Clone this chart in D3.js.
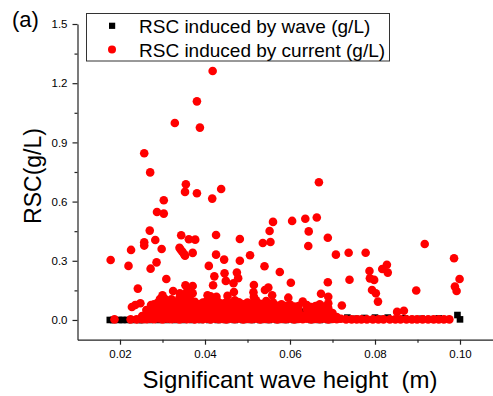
<!DOCTYPE html>
<html>
<head>
<meta charset="utf-8">
<script src="https://cdn.jsdelivr.net/npm/d3@7/dist/d3.min.js"></script>
<style>
	body { margin: 0; background: #fff; }
	svg { display: block; font-family: "Liberation Sans", Arial, sans-serif; }
	.axis path, .axis line { stroke: #222; stroke-width: 1.2; }
	.axis text { font-size: 11.5px; fill: #000; font-family: "Liberation Sans", Arial, sans-serif; }
</style>
</head>
<body>
<div class="plot-container"></div>
<script>
// [wave height (m), RSC (g/L)]
const wavePoints = [
	[0.0176, 0], [0.0184, 0], [0.0198, 0], [0.0206, 0], [0.0216, 0], [0.0228, 0], [0.0245, 0],
	[0.0252, 0], [0.0270, 0], [0.0290, 0], [0.0310, 0], [0.0330, 0], [0.0350, 0], [0.0370, 0],
	[0.0390, 0], [0.0410, 0], [0.0430, 0], [0.0450, 0], [0.0470, 0], [0.0490, 0], [0.0510, 0],
	[0.0530, 0], [0.0550, 0], [0.0570, 0], [0.0590, 0], [0.0610, 0], [0.0631, 0.042], [0.0650, 0],
	[0.0670, 0], [0.0690, 0], [0.0712, 0.004], [0.0735, 0.012], [0.0755, 0.006], [0.0775, 0.01],
	[0.0800, 0.012], [0.0815, 0.006], [0.0830, 0.012], [0.0850, 0.004], [0.0870, 0.008], [0.0890, 0.004],
	[0.0910, 0.006], [0.0930, 0.004], [0.0950, 0.008], [0.0970, 0.004], [0.0994, 0.025], [0.1000, 0.003]
];

const currentOutliers = [
	[0.0418, 1.262], [0.0381, 1.108], [0.0329, 0.998], [0.0388, 0.975], [0.0257, 0.845], [0.0271, 0.748],
	[0.0355, 0.688], [0.0353, 0.649], [0.0381, 0.642], [0.0417, 0.615], [0.0438, 0.664], [0.0303, 0.607],
	[0.0287, 0.547], [0.0303, 0.539], [0.0270, 0.453], [0.0283, 0.405], [0.0257, 0.394], [0.0257, 0.377],
	[0.0344, 0.429], [0.0362, 0.409], [0.0377, 0.407], [0.0340, 0.366], [0.0343, 0.356], [0.0347, 0.345],
	[0.0351, 0.333], [0.0353, 0.326], [0.0371, 0.340], [0.0426, 0.431], [0.0426, 0.331], [0.0409, 0.274],
	[0.0178, 0.304], [0.0220, 0.274], [0.0226, 0.355], [0.0272, 0.260], [0.0286, 0.292], [0.0298, 0.360],
	[0.0242, 0.159], [0.0228, 0.066], [0.0236, 0.076], [0.0248, 0.085], [0.0309, 0.208], [0.0300, 0.125],
	[0.0301, 0.113], [0.0325, 0.147], [0.0341, 0.135], [0.0354, 0.176], [0.0371, 0.172], [0.0371, 0.135],
	[0.0422, 0.221], [0.0419, 0.176], [0.0445, 0.306], [0.0446, 0.237], [0.0449, 0.198], [0.0427, 0.118],
	[0.0453, 0.122], [0.0468, 0.142], [0.0475, 0.240], [0.0478, 0.212], [0.0406, 0.125], [0.0482, 0.410],
	[0.0482, 0.300], [0.0273, 0.076], [0.0282, 0.056], [0.0294, 0.106], [0.0306, 0.106],
	[0.0668, 0.698], [0.0560, 0.497], [0.0605, 0.502], [0.0636, 0.513], [0.0663, 0.519], [0.0552, 0.451],
	[0.0536, 0.390], [0.0554, 0.395], [0.0644, 0.449], [0.0643, 0.375], [0.0689, 0.417], [0.0506, 0.328],
	[0.0708, 0.331], [0.0738, 0.341], [0.0778, 0.341], [0.0917, 0.385], [0.0986, 0.313], [0.0999, 0.208],
	[0.0988, 0.169], [0.0992, 0.147], [0.0540, 0.272], [0.0576, 0.243], [0.0602, 0.189], [0.0689, 0.191],
	[0.0740, 0.204], [0.0787, 0.248], [0.0788, 0.211], [0.0798, 0.203], [0.0817, 0.258], [0.0828, 0.280],
	[0.0830, 0.240], [0.0793, 0.152], [0.0802, 0.135], [0.0807, 0.093], [0.0897, 0.149], [0.0852, 0.041],
	[0.0868, 0.047], [0.0722, 0.073], [0.0673, 0.133], [0.0690, 0.118], [0.0690, 0.085], [0.0596, 0.113],
	[0.0630, 0.093], [0.0515, 0.177], [0.0515, 0.118], [0.0514, 0.140], [0.0549, 0.164], [0.0541, 0.152],
	[0.0558, 0.125], [0.0544, 0.096], [0.0641, 0.059], [0.0467, 0.186]
];

// the dense band close to zero, column by column
const currentDense = [
	[0.0187, 0.003], [0.0225, 0.003], [0.0239, 0.003],
	[0.0252, 0.004], [0.0252, 0.020],
	[0.0262, 0.004], [0.0262, 0.030], [0.0262, 0.050],
	[0.0271, 0.006], [0.0271, 0.025], [0.0271, 0.048],
	[0.0280, 0.004], [0.0280, 0.030], [0.0280, 0.060], [0.0280, 0.080],
	[0.0290, 0.008], [0.0290, 0.035], [0.0290, 0.062], [0.0290, 0.090],
	[0.0300, 0.003], [0.0300, 0.028], [0.0300, 0.055], [0.0300, 0.085],
	[0.0311, 0.006], [0.0311, 0.030], [0.0311, 0.060], [0.0311, 0.095],
	[0.0321, 0.004], [0.0321, 0.025], [0.0321, 0.050], [0.0321, 0.078], [0.0321, 0.105],
	[0.0330, 0.007], [0.0330, 0.035], [0.0330, 0.065], [0.0330, 0.092],
	[0.0340, 0.003], [0.0340, 0.030], [0.0340, 0.058], [0.0340, 0.088], [0.0340, 0.112],
	[0.0349, 0.006], [0.0349, 0.032], [0.0349, 0.060], [0.0349, 0.090], [0.0349, 0.125],
	[0.0358, 0.004], [0.0358, 0.028], [0.0358, 0.055], [0.0358, 0.085], [0.0358, 0.115], [0.0358, 0.145],
	[0.0367, 0.007], [0.0367, 0.035], [0.0367, 0.062], [0.0367, 0.095], [0.0367, 0.130],
	[0.0376, 0.003], [0.0376, 0.030], [0.0376, 0.060], [0.0376, 0.092],
	[0.0386, 0.005], [0.0386, 0.025], [0.0386, 0.050], [0.0386, 0.080],
	[0.0395, 0.004], [0.0395, 0.030], [0.0395, 0.058], [0.0395, 0.088],
	[0.0404, 0.006], [0.0404, 0.032], [0.0404, 0.060], [0.0404, 0.095],
	[0.0413, 0.003], [0.0413, 0.028], [0.0413, 0.055], [0.0413, 0.085], [0.0413, 0.120],
	[0.0423, 0.007], [0.0423, 0.035], [0.0423, 0.065], [0.0423, 0.100],
	[0.0432, 0.004], [0.0432, 0.030], [0.0432, 0.060], [0.0432, 0.090],
	[0.0441, 0.005], [0.0441, 0.028], [0.0441, 0.055], [0.0441, 0.082],
	[0.0450, 0.003], [0.0450, 0.032], [0.0450, 0.060], [0.0450, 0.090],
	[0.0460, 0.006], [0.0460, 0.030], [0.0460, 0.058], [0.0460, 0.085],
	[0.0470, 0.004], [0.0470, 0.025], [0.0470, 0.050], [0.0470, 0.078], [0.0470, 0.100],
	[0.0480, 0.007], [0.0480, 0.033], [0.0480, 0.060], [0.0480, 0.090],
	[0.0490, 0.003], [0.0490, 0.028], [0.0490, 0.055], [0.0490, 0.080],
	[0.0500, 0.005], [0.0500, 0.030], [0.0500, 0.058], [0.0500, 0.088],
	[0.0510, 0.004], [0.0510, 0.032], [0.0510, 0.060], [0.0510, 0.085],
	[0.0520, 0.006], [0.0520, 0.028], [0.0520, 0.052], [0.0520, 0.078], [0.0520, 0.100],
	[0.0530, 0.003], [0.0530, 0.030], [0.0530, 0.058], [0.0530, 0.082],
	[0.0540, 0.005], [0.0540, 0.025], [0.0540, 0.050], [0.0540, 0.075],
	[0.0550, 0.004], [0.0550, 0.030], [0.0550, 0.055], [0.0550, 0.080],
	[0.0560, 0.007], [0.0560, 0.032], [0.0560, 0.060], [0.0560, 0.088],
	[0.0570, 0.003], [0.0570, 0.028], [0.0570, 0.052], [0.0570, 0.072],
	[0.0580, 0.005], [0.0580, 0.030], [0.0580, 0.055], [0.0580, 0.080],
	[0.0590, 0.004], [0.0590, 0.025], [0.0590, 0.050], [0.0590, 0.070],
	[0.0600, 0.006], [0.0600, 0.030], [0.0600, 0.058], [0.0600, 0.078],
	[0.0610, 0.003], [0.0610, 0.028], [0.0610, 0.050], [0.0610, 0.068],
	[0.0620, 0.005], [0.0620, 0.025], [0.0620, 0.048], [0.0620, 0.070],
	[0.0630, 0.004], [0.0630, 0.022],
	[0.0640, 0.006], [0.0640, 0.030], [0.0640, 0.055], [0.0640, 0.075],
	[0.0650, 0.003], [0.0650, 0.025], [0.0650, 0.048], [0.0650, 0.065],
	[0.0660, 0.005], [0.0660, 0.028], [0.0660, 0.050], [0.0660, 0.070],
	[0.0670, 0.004], [0.0670, 0.030], [0.0670, 0.055], [0.0670, 0.080],
	[0.0680, 0.006], [0.0680, 0.025], [0.0680, 0.050], [0.0680, 0.068],
	[0.0690, 0.003], [0.0690, 0.028], [0.0690, 0.045], [0.0690, 0.060],
	[0.0700, 0.005], [0.0700, 0.020], [0.0700, 0.035],
	[0.0710, 0.004], [0.0710, 0.015],
	[0.0720, 0.006],
	[0.0732, 0.003], [0.0745, 0.003], [0.0757, 0.003], [0.0768, 0.003], [0.0781, 0.003], [0.0795, 0.003],
	[0.0808, 0.003], [0.0820, 0.003], [0.0835, 0.003], [0.0848, 0.003], [0.0860, 0.003], [0.0874, 0.003],
	[0.0887, 0.003], [0.0899, 0.003], [0.0912, 0.003], [0.0925, 0.003], [0.0938, 0.003], [0.0950, 0.003],
	[0.0962, 0.003], [0.0975, 0.003]
];

const xMajorTicks = [0.02, 0.04, 0.06, 0.08, 0.10];
const xMinorTicks = [0.03, 0.05, 0.07, 0.09];
const yMajorTicks = [0.0, 0.3, 0.6, 0.9, 1.2, 1.5];
const yMinorTicks = [0.15, 0.45, 0.75, 1.05, 1.35];

const legendLabels = ["RSC induced by wave (g/L)", "RSC induced by current (g/L)"];

const width = 493, height = 396;

const svg = d3.select(".plot-container").append("svg")
	.attr("width", width)
	.attr("height", height);

const x = d3.scaleLinear()
	.domain([0.01, 0.11])
	.range([77.5, 502.5]);

const y = d3.scaleLinear()
	.domain([-0.1, 1.5])
	.range([339.7, 24]);

// points first so the axes sit on top
svg.append("g").selectAll("rect")
	.data(wavePoints)
	.join("rect")
	.attr("x", d => x(d[0]) - 3.3)
	.attr("y", d => y(d[1]) - 3.3)
	.attr("width", 6.6)
	.attr("height", 6.6)
	.attr("fill", "#000");

svg.append("g").selectAll("circle")
	.data(currentDense.concat(currentOutliers))
	.join("circle")
	.attr("cx", d => x(d[0]))
	.attr("cy", d => y(d[1]))
	.attr("r", 4.3)
	.attr("fill", "#ff0000");

const xAxisG = svg.append("g")
	.attr("class", "axis")
	.attr("transform", `translate(0,${y(-0.1)})`);
xAxisG.call(d3.axisBottom(x).tickValues(xMajorTicks).tickFormat(d3.format(".2f"))
	.tickSize(5).tickSizeOuter(0).tickPadding(5));
xAxisG.append("g")
	.call(d3.axisBottom(x).tickValues(xMinorTicks).tickFormat("").tickSize(3).tickSizeOuter(0))
	.select(".domain").remove();

const yAxisG = svg.append("g")
	.attr("class", "axis")
	.attr("transform", `translate(${x(0.01)},0)`);
yAxisG.call(d3.axisLeft(y).tickValues(yMajorTicks).tickFormat(d3.format(".1f"))
	.tickSize(5).tickSizeOuter(0).tickPadding(5));
yAxisG.append("g")
	.call(d3.axisLeft(y).tickValues(yMinorTicks).tickFormat("").tickSize(3).tickSizeOuter(0))
	.select(".domain").remove();

svg.selectAll(".axis text").attr("fill", "#000");

// titles
svg.append("text")
	.attr("x", 290)
	.attr("y", 388)
	.attr("text-anchor", "middle")
	.style("font-size", "24px")
	.style("white-space", "pre")
	.text("Significant wave height  (m)");

svg.append("text")
	.attr("transform", "translate(41,176) rotate(-90)")
	.attr("text-anchor", "middle")
	.style("font-size", "23px")
	.text("RSC(g/L)");

svg.append("text")
	.attr("x", 12)
	.attr("y", 27)
	.style("font-size", "22px")
	.text("(a)");

// legend
const legend = svg.append("g");
legend.append("rect")
	.attr("x", 86.5)
	.attr("y", 13.5)
	.attr("width", 303)
	.attr("height", 47.5)
	.attr("fill", "#fff")
	.attr("stroke", "#333")
	.attr("stroke-width", 1);

legend.append("rect")
	.attr("x", 109)
	.attr("y", 22.7)
	.attr("width", 6.2)
	.attr("height", 6.2)
	.attr("fill", "#000");

legend.append("circle")
	.attr("cx", 112)
	.attr("cy", 49.5)
	.attr("r", 4)
	.attr("fill", "#ff0000");

legend.selectAll("text.lg")
	.data(legendLabels)
	.join("text")
	.attr("class", "lg")
	.attr("x", 139)
	.attr("y", (d, i) => 33 + i * 23.5)
	.style("font-size", "19px")
	.text(d => d);
</script>
</body>
</html>
